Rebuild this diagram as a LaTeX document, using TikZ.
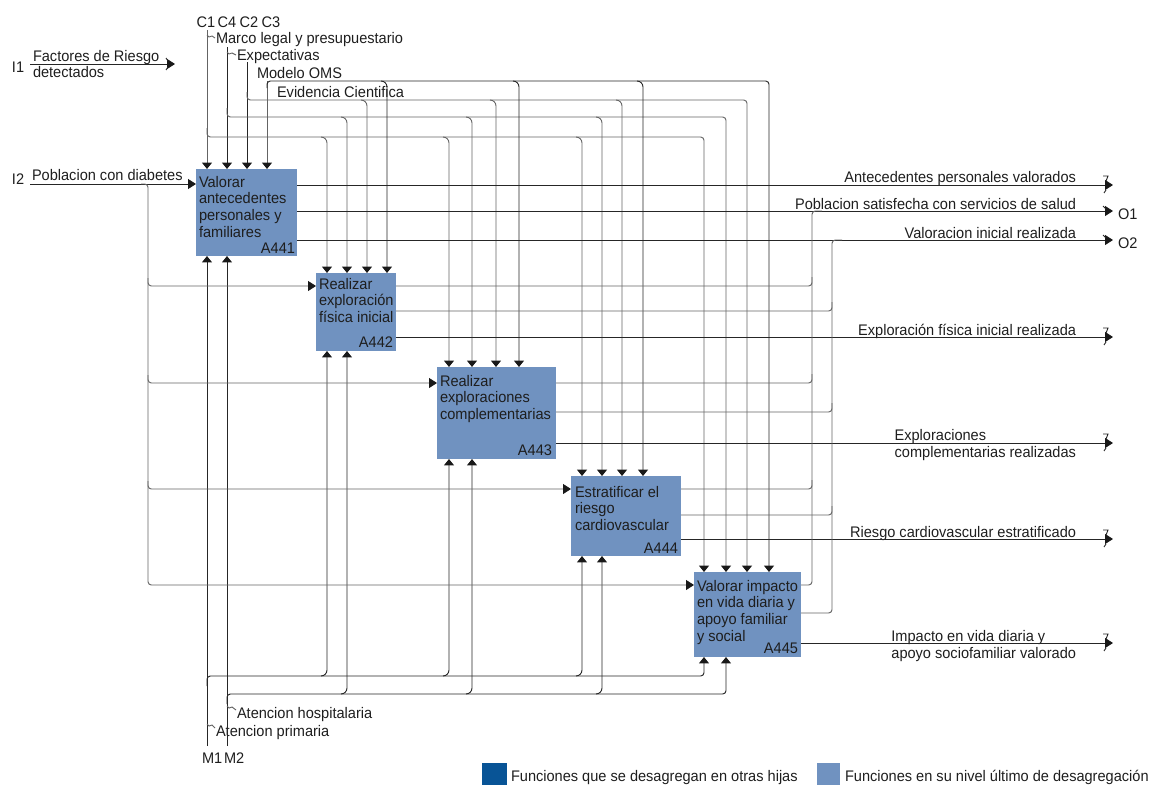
\documentclass[tikz,border=0pt]{standalone}
\usepackage{fontspec}
\setmainfont{Liberation Sans}[FakeStretch=0.95]
\usetikzlibrary{arrows.meta}
\definecolor{boxblue}{RGB}{112,146,192}
\definecolor{darkblue}{RGB}{8,84,150}
\definecolor{lgray}{RGB}{100,100,100}
\definecolor{txt}{RGB}{30,30,30}
\begin{document}
\begin{tikzpicture}[x=0.75pt,y=-0.75pt,
  every node/.style={font=\fontsize{11.5}{12.5}\selectfont, text=txt, inner sep=0pt, outer sep=0pt},
  fn/.style={fill=boxblue, draw=none, anchor=north west},
  btxt/.style={anchor=north west, align=left},
  bid/.style={anchor=base east},
  lbl/.style={anchor=base west},
  rlbl/.style={anchor=base east},
  ln/.style={draw=black!85, line width=0.7pt},
  gl/.style={draw=lgray, line width=0.7pt},
  rc/.style={rounded corners=2.5pt},
  tip/.style={-{Triangle[length=4.8pt,width=7.5pt,color=black!90]}},
  otip/.style={-{Triangle[length=6pt,width=7.5pt,color=black!90]}},
]
\useasboundingbox (0,0) rectangle (1157,785);

% ---------- boxes ----------
\node[fn, minimum width=75.75pt, minimum height=65.25pt] (A441) at (196,169) {};
\node[fn, minimum width=60pt, minimum height=58.5pt] (A442) at (316,273) {};
\node[fn, minimum width=89.25pt, minimum height=69pt] (A443) at (437,367) {};
\node[fn, minimum width=82.5pt, minimum height=60pt] (A444) at (571,476) {};
\node[fn, minimum width=80.25pt, minimum height=63.75pt] (A445) at (694,572) {};

\node[btxt] (t441) at (199,176) {Valorar\\antecedentes\\personales y\\familiares};
\node[btxt] (t442) at (319,278) {Realizar\\exploración\\física inicial};
\node[btxt] (t443) at (440,375) {Realizar\\exploraciones\\complementarias};
\node[btxt] (t444) at (575,486) {Estratificar el\\riesgo\\cardiovascular};
\node[btxt] (t445) at (697,580) {Valorar impacto\\en vida diaria y\\apoyo familiar\\y social};

\node[bid] (i441) at (295,253) {A441};
\node[bid] (i442) at (393,347) {A442};
\node[bid] (i443) at (552,455) {A443};
\node[bid] (i444) at (678,553) {A444};
\node[bid] (i445) at (798,653) {A445};

% ---------- top labels ----------
\node[anchor=base] (c1) at (206,27) {C1};
\node[anchor=base] (c4) at (227,27) {C4};
\node[anchor=base] (c2) at (249,27) {C2};
\node[anchor=base] (c3) at (271,27) {C3};
\node[lbl] (lmarco) at (216,43) {Marco legal y presupuestario};
\node[lbl] (lexp) at (237,60) {Expectativas};
\node[lbl] (loms) at (257,78) {Modelo OMS};
\node[lbl] (levi) at (277,97) {Evidencia Cientifica};

% ---------- left labels ----------
\node[lbl] (li1) at (12,72) {I1};
\node[lbl] (lfac) at (33,61) {Factores de Riesgo};
\node[lbl] (ldet) at (33,77) {detectados};
\node[lbl] (li2) at (12,184) {I2};
\node[lbl] (lpob) at (32,180) {Poblacion con diabetes};

% ---------- bottom labels ----------
\node[lbl] (lhos) at (237,718) {Atencion hospitalaria};
\node[lbl] (lpri) at (216,736) {Atencion primaria};
\node[lbl] (lm1) at (202,763) {M1};
\node[lbl] (lm2) at (224,763) {M2};

% ---------- right labels ----------
\node[rlbl] (o1) at (1076,182) {Antecedentes personales valorados};
\node[rlbl] (o2) at (1076,209) {Poblacion satisfecha con servicios de salud};
\node[rlbl] (o3) at (1076,238) {Valoracion inicial realizada};
\node[rlbl] (o4) at (1076,335) {Exploración física inicial realizada};
\node[anchor=east, align=left] (o5) at (1076,445) {Exploraciones\\complementarias realizadas};
\node[rlbl] (o6) at (1076,537) {Riesgo cardiovascular estratificado};
\node[anchor=east, align=left] (o7) at (1076,646) {Impacto en vida diaria y\\apoyo sociofamiliar valorado};
\node[lbl] (lo1) at (1118,219) {O1};
\node[lbl] (lo2) at (1118,248) {O2};

% ---------- controls ----------
\draw[gl,tip] (207,30) -- (207,0 |- A441.north);
\draw[ln,tip] (227,47) -- (227,0 |- A441.north);
\draw[ln,tip] (247,62) -- (247,0 |- A441.north);
\draw[gl,tip] (267,81) -- (267,0 |- A441.north);
% label squiggles
\draw[gl] (207,35) -- (209,37) -- (212,36) -- (215,38);
\draw[gl] (227,52) -- (229,54) -- (232,53) -- (236,55);
% buses
\draw[gl,rc,tip] (207,128) |- (704,137) -- (704,0 |- A445.north);
\draw[gl,rc,tip] (227,108) |- (726,117) -- (726,0 |- A445.north);
\draw[gl,rc,tip] (247,92) |- (747,100) -- (747,0 |- A445.north);
\draw[ln,rc,tip] (267,88) |- (769,81) -- (769,0 |- A445.north);
\foreach \x/\b in {327/A442, 449/A443, 582/A444}
  \draw[gl,tip] (\x-6,137) to[out=0,in=90] (\x,143) -- (\x,0 |- \b.north);
\foreach \x/\b in {347/A442, 472/A443, 602/A444}
  \draw[gl,tip] (\x-6,117) to[out=0,in=90] (\x,123) -- (\x,0 |- \b.north);
\foreach \x/\b in {367/A442, 496/A443, 622/A444}
  \draw[gl,tip] (\x-6,100) to[out=0,in=90] (\x,106) -- (\x,0 |- \b.north);
\foreach \x/\b in {387/A442, 519/A443, 643/A444}
  \draw[ln,tip] (\x-6,81) to[out=0,in=90] (\x,87) -- (\x,0 |- \b.north);

% ---------- mechanisms ----------
\draw[ln,tip] (207,746) -- (207,0 |- A441.south);
\draw[ln,tip] (227,746) -- (227,0 |- A441.south);
\draw[gl] (207,724) -- (209,726) -- (212,725) -- (215,728);
\draw[gl] (227,706) -- (229,708) -- (232,707) -- (236,710);
\draw[ln,rc,tip] (207,686) |- (704,676) -- (704,0 |- A445.south);
\draw[ln,rc,tip] (227,704) |- (726,694) -- (726,0 |- A445.south);
\foreach \x/\b in {327/A442, 449/A443, 582/A444}
  \draw[ln,tip] (\x-6,676) to[out=0,in=-90] (\x,670) -- (\x,0 |- \b.south);
\foreach \x/\b in {347/A442, 472/A443, 602/A444}
  \draw[ln,tip] (\x-6,694) to[out=0,in=-90] (\x,688) -- (\x,0 |- \b.south);

% ---------- inputs ----------
\draw[ln,otip] (30,64) -- (175,64);
\draw[ln] (166,58) -- (168,61);
\draw[ln] (166,70) -- (168,67);
\draw[ln,otip] (30,184) -- (A441.west |- 0,184);
\draw[gl,rc,otip] (141,184) -| (148,585) -- (A445.west |- 0,585);
\draw[gl,rc,otip] (148,278) |- (A442.west |- 0,286);
\draw[gl,rc,otip] (148,375) |- (A443.west |- 0,383);
\draw[gl,rc,otip] (148,481) |- (A444.west |- 0,489);

% ---------- outputs ----------
\draw[ln,otip] (A441.east |- 0,185) -- (1113,185);
\draw[ln,otip] (A441.east |- 0,211) -- (1113,211);
\draw[ln,otip] (A441.east |- 0,240) -- (1113,240);
\draw[ln,otip] (A442.east |- 0,337) -- (1113,337);
\draw[ln,otip] (A443.east |- 0,443) -- (1113,443);
\draw[ln,otip] (A444.east |- 0,539) -- (1113,539);
\draw[ln,otip] (A445.east |- 0,643) -- (1113,643);
\foreach \y in {185,337,443,539,643}{
  \draw[ln] (1103,\y-9) -- (1108,\y-9) -- (1106,\y-4);
  \draw[ln] (1104,\y+8) -- (1106,\y+5);
}
\draw[ln] (1103,206) -- (1106,209);
\draw[ln] (1103,235) -- (1106,238);

% feedback to O1 / O2
\draw[gl,rc] (A445.east |- 0,585) -| (812,211) -- (822,211);
\foreach \b/\y in {A442/286, A443/383, A444/489}
  \draw[gl,rc] (\b.east |- 0,\y) -| (812,\y-9);
\draw[gl,rc] (A445.east |- 0,613) -| (832,240) -- (842,240);
\foreach \b/\y in {A442/311, A443/412, A444/515}
  \draw[gl,rc] (\b.east |- 0,\y) -| (832,\y-9);

% ---------- legend ----------
\fill[darkblue] (482,763) rectangle (507,785);
\node[lbl] (leg1) at (511,781) {Funciones que se desagregan en otras hijas};
\fill[boxblue] (817,763) rectangle (840,785);
\node[lbl] (leg2) at (845,781) {Funciones en su nivel último de desagregación};
\end{tikzpicture}
\end{document}
